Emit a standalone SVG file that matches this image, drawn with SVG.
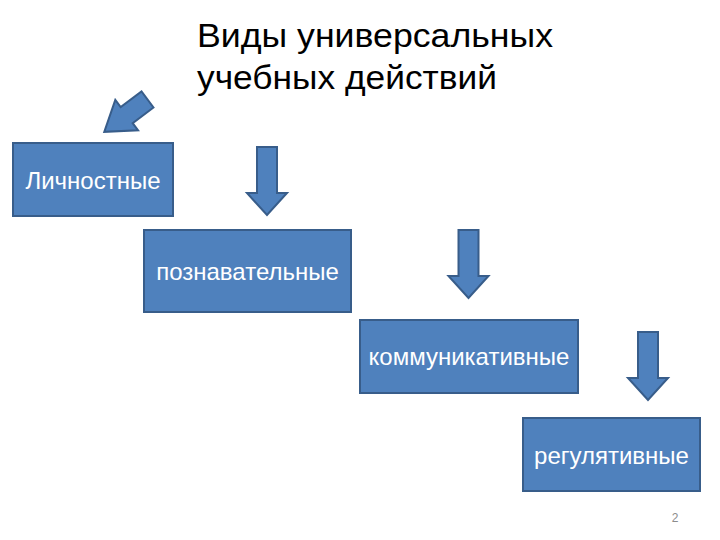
<svg xmlns="http://www.w3.org/2000/svg" width="720" height="540" viewBox="0 0 720 540">
<style>
.box{fill:#4F81BD;stroke:#385D8A;stroke-width:2}
.lbl{font-family:"Liberation Sans",Arial,sans-serif;font-size:24px;fill:#FFFFFF;text-anchor:middle}
.title{font-family:"Liberation Sans",Arial,sans-serif;font-size:33px;fill:#000000}
.arr{fill:#4F81BD;stroke:#385D8A;stroke-width:2;stroke-linejoin:miter}
</style>
<defs>
<path id="down" d="M-10,0 H10 V46 H20 L0,68 L-20,46 H-10 Z"/>
</defs>
<rect width="720" height="540" fill="#FFFFFF"/>
<g id="title">
<text class="title" x="197" y="47" textLength="356" lengthAdjust="spacingAndGlyphs">Виды универсальных</text>
<text class="title" x="197" y="89" textLength="300" lengthAdjust="spacingAndGlyphs">учебных действий</text>
</g>
<g id="connectors">
<path class="arr" transform="translate(147.5,99.5) rotate(143.2)" d="M0,-10 H26 V-19 L54,0 L26,19 V10 H0 Z"/>
<use class="arr" href="#down" transform="translate(267,147)"/>
<use class="arr" href="#down" transform="translate(468.5,230)"/>
<use class="arr" href="#down" transform="translate(648,332)"/>
</g>
<g id="node-lichnostnye">
<rect class="box" x="13" y="143" width="160" height="73"/>
<text class="lbl" x="93" y="189">Личностные</text>
</g>
<g id="node-poznavatelnye">
<rect class="box" x="144" y="230" width="207" height="82"/>
<text class="lbl" x="247.5" y="280">познавательные</text>
</g>
<g id="node-kommunikativnye">
<rect class="box" x="360" y="320" width="218" height="73"/>
<text class="lbl" x="469" y="365">коммуникативные</text>
</g>
<g id="node-regulyativnye">
<rect class="box" x="523" y="418" width="177" height="73"/>
<text class="lbl" x="611.5" y="464">регулятивные</text>
</g>
<text x="675" y="522" font-family="Liberation Sans,Arial,sans-serif" font-size="12" fill="#8C8C8C" text-anchor="middle">2</text>
</svg>
